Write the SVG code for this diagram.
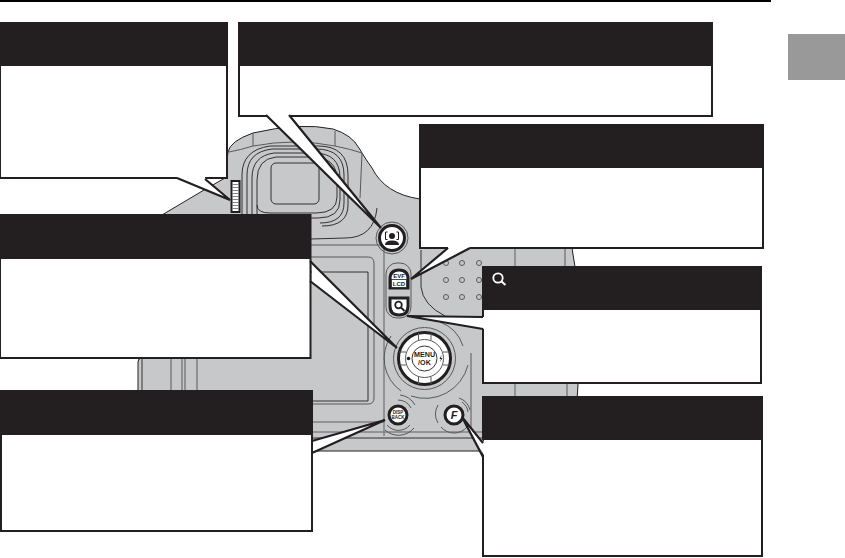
<svg xmlns="http://www.w3.org/2000/svg" width="845" height="558" viewBox="0 0 845 558">
<style>
.hd{fill:#231f20}
.bx{fill:#fff;stroke:#231f20;stroke-width:2}
.tw{fill:#fff;stroke:none}
.tl{fill:none;stroke:#231f20;stroke-width:2.200;stroke-linejoin:miter}
.d{fill:none;stroke:#231f20;stroke-width:0.900}
.g{fill:none;stroke:#58595b;stroke-width:1}
.gt{fill:none;stroke:#808285;stroke-width:1.500}
.btn{fill:#fff;stroke:#231f20;stroke-width:3}
.t{font-family:"Liberation Sans",Arial,sans-serif;font-weight:bold;fill:#231f20;text-anchor:middle}
</style>
<rect width="845" height="558" fill="#fff"/>
<rect x="0" y="0" width="771" height="2" fill="#000"/>
<rect id="tab" x="788" y="34" width="57" height="46" fill="#999"/>
<g id="camera">
<path d="M138,451 L138,362 Q138,358 142,358 L150,358 L150,225 L162,215 L204,190 L225,178 L228,152 Q230,141 253,133 Q300,122 333,129 Q352,135 359,148 Q366,160 372,168 Q385,194 420,199 L572,248 L575,267 L578,385 L577,400 L540,451 Z" fill="#c7c8ca" stroke="#231f20" stroke-width="1"/>
<path class="d" d="M142,358V391"/>
<path class="g" d="M171,358V391M182,358V391M185,358V391M197,358V391"/>
<path class="g" d="M253,133V146M335,131V146M229,152Q240,150 253,146Q295,138 335,146Q350,149 362,153M362,153L360,198"/>
<path class="d" d="M242,225V175Q242,150 270,146H318Q348,146 348,175V205Q348,226 322,226"/>
<path class="d" d="M247,225V175Q247,152 272,149H316Q344,149 344,175V203Q344,223 320,223"/>
<path class="d" d="M252,225V178Q252,156 274,153H314Q340,153 340,178V200Q340,218 318,218H262"/>
<path class="d" d="M257,225V180Q257,159 276,157H312Q337,157 337,180V197Q337,213 316,213H270Q257,213 257,205"/>
<rect class="d" x="271" y="163" width="48" height="41" rx="5"/>
<path class="d" d="M377,208Q374,238 345,238L311,239"/>
<path class="g" d="M311,245H385"/>
<path class="g" d="M311,257H368Q374,257 374,263V398Q374,404 368,404H312"/>
<path class="d" d="M311,272H368V401H312"/>
<path class="gt" d="M384,245V436"/>
<path class="gt" d="M312,422H384"/>
<path class="gt" d="M312,432H483"/>
<path class="d" d="M312,438H483"/>
<path class="d" d="M421,250V287Q423,305 445,316"/>
<path class="gt" d="M515,248V267M515,383V397"/>
<path class="g" d="M565,248V267M567,383V397"/>
<path class="g" d="M471,353V432"/>
<g fill="none" stroke="#58595b" stroke-width="1">
<circle cx="446" cy="263" r="2.500"/><circle cx="462" cy="263" r="2.500"/><circle cx="479" cy="263" r="2.500"/>
<circle cx="446" cy="280" r="2.500"/><circle cx="462" cy="280" r="2.500"/><circle cx="479" cy="280" r="2.500"/>
<circle cx="446" cy="297" r="2.500"/><circle cx="462" cy="297" r="2.500"/><circle cx="479" cy="297" r="2.500"/>
</g>
</g>
<g id="dial">
<rect x="231.500" y="181" width="8" height="31" fill="#fff" stroke="#231f20" stroke-width="2"/>
<path d="M232,184.500H239M232,187.500H239M232,190.500H239M232,193.500H239M232,196.500H239M232,199.500H239M232,202.500H239M232,205.500H239M232,208.500H239" stroke="#808285" stroke-width="1.200"/>
</g>
<g id="btn-face">
<circle class="g" cx="392" cy="238" r="16"/>
<circle class="btn" cx="392" cy="238" r="12.500"/>
<circle cx="392" cy="236" r="3" fill="#231f20"/>
<path d="M385,245Q385,240.500 392,240.500Q399,240.500 399,245Z" fill="#231f20"/>
<path d="M387.500,232H385.500V239.500H387.500M396.500,232H398.500V239.500H396.500" fill="none" stroke="#231f20" stroke-width="1"/>
</g>
<g id="btn-evf">
<rect class="g" x="386" y="263" width="25" height="55" rx="11"/>
<path class="btn" d="M390,288V279Q390,270 399,270Q408,270 408,279V288Z"/>
<text class="t" x="399" y="278" font-size="6">EVF</text>
<rect x="391.500" y="279.500" width="15" height="8" fill="#fff" stroke="#231f20" stroke-width="0.800"/>
<text class="t" x="399" y="286" font-size="6">LCD</text>
</g>
<g id="btn-zoom">
<path class="btn" d="M390,298H408V306Q408,315 399,315Q390,315 390,306Z"/>
<circle cx="398.500" cy="305" r="3.300" fill="none" stroke="#231f20" stroke-width="1.800"/>
<path d="M401,307.500L404.500,311" stroke="#231f20" stroke-width="2"/>
</g>
<g id="btn-dpad">
<circle class="g" cx="424.500" cy="358.500" r="31"/>
<path class="g" d="M391,336A40,40 0 0 0 401,391M411,396A44,44 0 0 0 468,365M463,346A38,38 0 0 0 440,322"/>
<circle class="btn" cx="424.500" cy="358.500" r="26"/>
<circle class="g" cx="424.500" cy="358.500" r="19"/>
<circle class="d" cx="424.500" cy="358.500" r="12.500"/>
<path class="g" d="M418.500,333V340M431,333V340M418.500,377V384M431,377V384M399,352H406M399,365H406M443,352H450M443,365H450"/>
<text class="t" x="424.500" y="357" font-size="7.200">MENU</text>
<text class="t" x="424.500" y="364.800" font-size="7.200">/OK</text>
<circle cx="408.500" cy="358.500" r="1.800" fill="#231f20"/>
<path d="M441.500,355L439.500,359H441L440,362L442.500,358H441Z" fill="#231f20"/>
</g>
<g id="btn-disp">
<path class="g" d="M387,425A15,15 0 0 0 410,425M411,408A15,15 0 0 0 398,400"/>
<path class="g" d="M385,430A20,20 0 0 0 414,428M415,405A20,20 0 0 0 400,395"/>
<circle class="btn" cx="398" cy="415" r="9"/>
<text class="t" x="398" y="414" font-size="4.500">DISP</text>
<text class="t" x="398" y="419" font-size="4.500">BACK</text>
</g>
<g id="btn-f">
<path class="g" d="M441,427A17,17 0 0 0 467,427M470,410A17,17 0 0 0 459,398"/>
<path class="g" d="M438,405A18,18 0 0 0 438,423M462,402A15,15 0 0 1 468,412"/>
<circle class="btn" cx="454" cy="415" r="9"/>
<text class="t" x="454" y="419" font-size="11" font-style="italic">F</text>
</g>
<g id="box-a"><rect class="bx" x="0" y="23" width="227" height="155"/><rect class="hd" x="0" y="23" width="228" height="43"/></g>
<g id="box-b"><rect class="bx" x="239" y="23" width="473" height="93"/><rect class="hd" x="239" y="23" width="474" height="43"/></g>
<g id="box-c"><rect class="bx" x="420" y="125" width="343" height="123"/><rect class="hd" x="420" y="125" width="344" height="43"/></g>
<g id="box-d"><rect class="bx" x="0" y="215" width="310.500" height="143"/><rect class="hd" x="0" y="215" width="311" height="44"/></g>
<g id="box-e"><rect class="bx" x="1" y="391" width="311" height="140"/><rect class="hd" x="1" y="391" width="311" height="44"/></g>
<g id="box-f"><rect class="bx" x="483" y="267" width="278" height="116"/><rect class="hd" x="482" y="267" width="280" height="43"/>
<circle cx="498" cy="278" r="4.700" fill="none" stroke="#fff" stroke-width="1.800"/><path d="M501.500,281.500L505.500,285" stroke="#fff" stroke-width="2"/></g>
<g id="box-g"><rect class="bx" x="483" y="397" width="279" height="159"/><rect class="hd" x="482" y="397" width="281" height="43"/></g>
<g id="connectors">
<polygon class="tw" points="177,176 177,178 230,200 205,178 205,176"/><polyline class="tl" points="177,178 230,200 205,179"/>
<polygon class="tw" points="266,113 266,115 381,228 289,115 289,113"/><polyline class="tl" points="266,115 381,228 289,115"/>
<polygon class="tw" points="448,250 448,248 411,279 470,248 470,246 448,246"/><polyline class="tl" points="448,248 411,279 470,248"/>
<polygon class="tw" points="312,262 397,348 312,282"/><polyline class="tl" points="310,261 397,348 310,281"/>
<polygon class="tw" points="313,441 385,420 313,453"/><polyline class="tl" points="312,441 385,420 312,453"/>
<polygon class="tw" points="485,317 407,316 485,329"/><polyline class="tl" points="483,317 407,316 483,329"/>
<polygon class="tw" points="485,443 462,417 485,457"/><polyline class="tl" points="483,443 462,417 483,457"/>
</g>
</svg>
